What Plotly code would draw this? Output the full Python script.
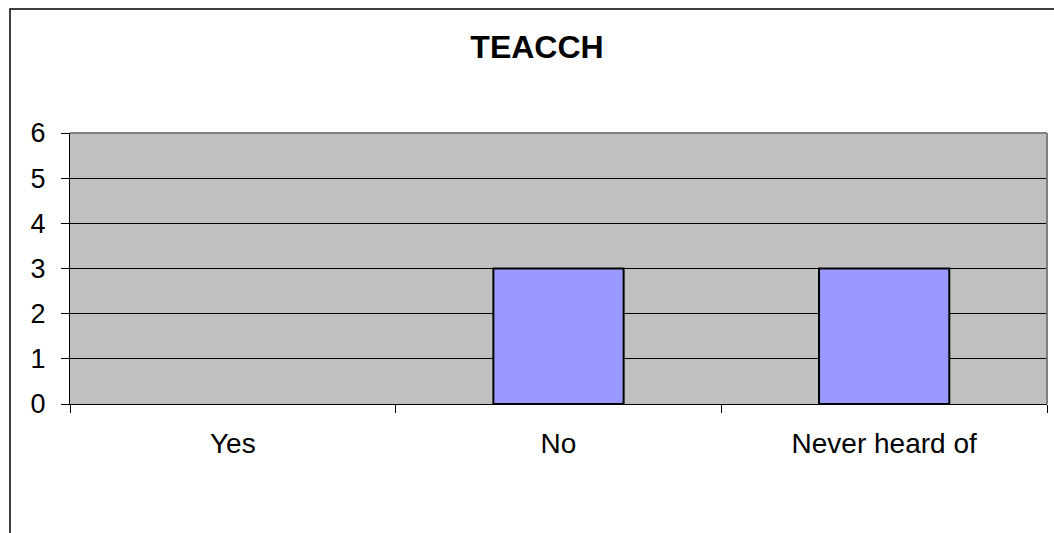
import plotly.graph_objects as go

categories = ["Yes", "No", "Never heard of"]
values = [0, 3, 3]
y_ticks = [0, 1, 2, 3, 4, 5, 6]

W, H = 1054, 533
L, R, T, B = 70, 7, 133, 129
pw, ph = W - L - R, H - T - B

fig = go.Figure()
fig.add_trace(go.Bar(
    x=categories, y=values, width=0.4,
    marker=dict(color="#9999FF",
                line=dict(color="#000000", width=[0 if v == 0 else 2 for v in values])),
    showlegend=False,
))

fig.update_layout(
    width=W, height=H,
    margin=dict(l=L, r=R, t=T, b=B, pad=0),
    paper_bgcolor="white",
    plot_bgcolor="#C0C0C0",
    font=dict(family="Liberation Sans, Arial, sans-serif", color="black", size=28),
    title=dict(text="<b>TEACCH</b>", xref="container", x=537 / W, xanchor="center",
               y=1 - 47 / H, yanchor="middle",
               font=dict(size=32, family="Liberation Sans, Arial, sans-serif", color="black")),
    bargap=0.6,
    xaxis=dict(
        showline=True, linecolor="black", linewidth=1,
        ticks="outside", ticklen=8, tickcolor="black", tickwidth=1,
        tickson="boundaries", showgrid=False,
        tickfont=dict(size=28), ticklabelstandoff=14,
    ),
    yaxis=dict(
        range=[0, 6], tickvals=y_ticks,
        showline=True, linecolor="black", linewidth=1,
        ticks="outside", ticklen=8, tickcolor="black", tickwidth=1,
        showgrid=True, gridcolor="black", gridwidth=1, zeroline=False,
        tickfont=dict(size=27), ticklabelstandoff=10,
    ),
    shapes=[
        dict(type="line", xref="x domain", yref="y domain", x0=0, x1=1, y0=1, y1=1,
             line=dict(color="#808080", width=2)),
        dict(type="line", xref="x domain", yref="y domain", x0=1, x1=1, y0=0, y1=1,
             line=dict(color="#808080", width=2)),
        dict(type="rect", xref="paper", yref="paper",
             x0=(10 - L) / pw, x1=(W + 20 - L) / pw,
             y0=-(H + 20 - (T + ph)) / ph, y1=(T + ph - 9) / ph,
             line=dict(color="black", width=1.5), fillcolor="rgba(0,0,0,0)", layer="above"),
    ],
)

fig.write_html("out.html", config={"displayModeBar": False},
               post_script="document.body.style.margin='0';document.body.style.overflow='hidden';")
